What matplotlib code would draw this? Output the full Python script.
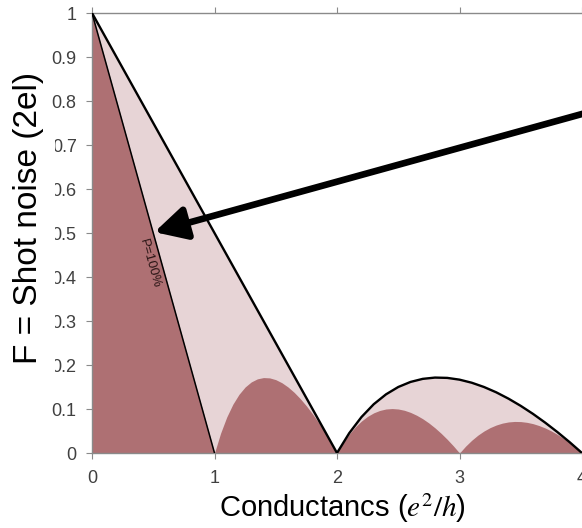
import matplotlib
matplotlib.use("Agg")
import matplotlib.pyplot as plt
from matplotlib.patches import Rectangle

plt.rcParams['font.family'] = ['Liberation Sans', 'DejaVu Sans']
plt.rcParams['mathtext.fontset'] = 'stix'

# Unpolarized (P = 0) Fano factor vs conductance (light region, black outline)
g_unpol = [0.0, 2.0, 2.1, 2.2, 2.3, 2.4, 2.5, 2.6, 2.7, 2.8, 2.9, 3.0, 3.1, 3.2,
           3.3, 3.4, 3.5, 3.6, 3.7, 3.8, 3.9, 4.0]
f_unpol = [1.0, 0.0, 0.0452, 0.0818, 0.1109, 0.1333, 0.15, 0.1615, 0.1685, 0.1714,
           0.1707, 0.1667, 0.1597, 0.15, 0.1379, 0.1235, 0.1071, 0.0889, 0.0689,
           0.0474, 0.0244, 0.0]

# Fully polarized (P = 100%) Fano factor vs conductance (dark region)
g_pol = [0.0, 1.0, 1.05, 1.1, 1.15, 1.2, 1.25, 1.3, 1.35, 1.4, 1.45, 1.5, 1.55, 1.6,
         1.65, 1.7, 1.75, 1.8, 1.85, 1.9, 1.95, 2.0,
         2.05, 2.1, 2.15, 2.2, 2.25, 2.3, 2.35, 2.4, 2.45, 2.5, 2.55, 2.6,
         2.65, 2.7, 2.75, 2.8, 2.85, 2.9, 2.95, 3.0,
         3.05, 3.1, 3.15, 3.2, 3.25, 3.3, 3.35, 3.4, 3.45, 3.5, 3.55, 3.6,
         3.65, 3.7, 3.75, 3.8, 3.85, 3.9, 3.95, 4.0]
f_pol = [1.0, 0.0, 0.0452, 0.0818, 0.1109, 0.1333, 0.15, 0.1615, 0.1685, 0.1714,
         0.1707, 0.1667, 0.1597, 0.15, 0.1379, 0.1235, 0.1071, 0.0889, 0.0689,
         0.0474, 0.0244, 0.0,
         0.0232, 0.0429, 0.0593, 0.0727, 0.0833, 0.0913, 0.0968, 0.1, 0.101, 0.1,
         0.0971, 0.0923, 0.0858, 0.0778, 0.0682, 0.0571, 0.0447, 0.031, 0.0161, 0.0,
         0.0156, 0.029, 0.0405, 0.05, 0.0577, 0.0636, 0.0679, 0.0706, 0.0717, 0.0714,
         0.0697, 0.0667, 0.0623, 0.0568, 0.05, 0.0421, 0.0331, 0.0231, 0.012, 0.0]

x_ticks = [0, 1, 2, 3, 4]
y_ticks = [0, 0.1, 0.2, 0.3, 0.4, 0.5, 0.6, 0.7, 0.8, 0.9, 1]
y_ticklabels = ['0', '0.1', '0.2', '0.3', '0.4', '0.5', '0.6', '0.7', '0.8', '0.9', '1']

dark = '#ae7073'
light = '#e7d4d6'

fig = plt.figure(figsize=(5.82, 5.28), dpi=100)
ax = fig.add_axes([92/582, 75/528, 490/582, 440/528])

ax.fill_between(g_unpol, f_unpol, 0, color=light, lw=0, zorder=1)
ax.fill_between(g_pol, f_pol, 0, color=dark, lw=0, zorder=2)
ax.plot(g_unpol, f_unpol, color='black', lw=1.7, zorder=4, solid_joinstyle='round')
ax.plot(g_pol[:2], f_pol[:2], color='black', lw=1.1, zorder=4)

ax.text(0.47, 0.43, 'P=100%', rotation=-74.4, rotation_mode='anchor',
        ha='center', va='center', fontsize=9.5, color='#2a1515', zorder=5)

ax.annotate('', xy=(0.51, 0.502), xytext=(4.02, 0.772),
            arrowprops=dict(arrowstyle='-|>,head_length=0.95,head_width=0.5',
                            lw=4.8, color='black', shrinkA=0, shrinkB=0,
                            mutation_scale=20),
            annotation_clip=False, zorder=6)

ax.set_xlim(0, 4)
ax.set_ylim(0, 1)
ax.set_xticks(x_ticks)
ax.set_xticklabels([str(v) for v in x_ticks])
ax.set_yticks(y_ticks)
ax.set_yticklabels(y_ticklabels)

for s in ['left', 'bottom', 'top']:
    ax.spines[s].set_color('#8a8a8a')
    ax.spines[s].set_linewidth(1.0)
ax.spines['right'].set_visible(False)
ax.spines['bottom'].set_zorder(3)

ax.tick_params(axis='both', colors='#8a8a8a', labelcolor='#404040',
               labelsize=13, length=4, width=0.8)
ax.tick_params(axis='y', pad=7)
ax.tick_params(axis='x', pad=8, top=True)

ax.set_xlabel('Conductancs ($e^2/h$)', fontsize=21, color='black')
ax.xaxis.set_label_coords(0.51, -0.088)

fig.patches.append(Rectangle((0, 138/528), 55/582, 270/528, transform=fig.transFigure,
                             facecolor='white', edgecolor='none', zorder=2))
fig.text(29/582, 0.588, 'F = Shot noise (2el)', rotation=90, ha='center', va='center',
         fontsize=24, color='black', zorder=3)

fig.savefig('out.png', dpi=100, facecolor='white')
